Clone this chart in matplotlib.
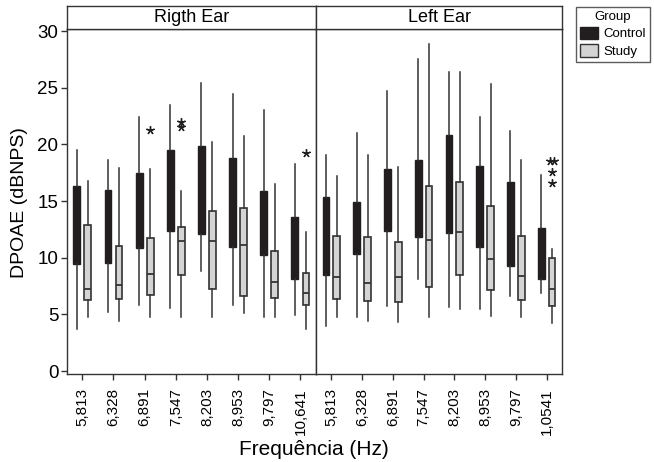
"""DPOAE by frequency, control vs study, right and left ear boxplots."""
import matplotlib
matplotlib.use("Agg")
import matplotlib.pyplot as plt
from matplotlib.patches import Patch

plt.rcParams["font.family"] = ["Liberation Sans", "DejaVu Sans"]

freq_right = ["5,813", "6,328", "6,891", "7,547", "8,203", "8,953", "9,797", "10,641"]
freq_left = ["5,813", "6,328", "6,891", "7,547", "8,203", "8,953", "9,797", "1,0541"]

# (whisker low, q1, median, q3, whisker high)
right_control = [
    (3.7, 9.45, 12.5, 16.3, 19.5),
    (5.2, 9.55, 12.5, 16.0, 18.65),
    (5.85, 10.9, 14.0, 17.45, 22.4),
    (5.6, 12.35, 16.0, 19.5, 23.5),
    (8.85, 12.1, 16.0, 19.85, 25.4),
    (5.85, 10.95, 15.0, 18.8, 24.4),
    (4.75, 10.25, 13.0, 15.85, 23.0),
    (4.95, 8.15, 11.0, 13.55, 18.25),
]
right_study = [
    (4.8, 6.3, 7.2, 12.9, 16.8),
    (4.4, 6.4, 7.6, 11.05, 17.95),
    (4.75, 6.75, 8.55, 11.75, 17.8),
    (4.75, 8.5, 11.45, 12.75, 15.85),
    (4.75, 7.2, 11.45, 14.1, 20.2),
    (5.15, 6.6, 11.1, 14.4, 20.7),
    (4.75, 6.45, 7.85, 10.6, 16.5),
    (3.75, 5.85, 6.85, 8.65, 12.3),
]
right_study_out = [[], [], [21.3], [22.0, 21.5], [], [], [], [19.2]]

left_control = [
    (4.0, 8.5, 12.0, 15.35, 19.1),
    (4.8, 10.35, 12.5, 14.95, 21.0),
    (5.7, 12.35, 15.0, 17.8, 24.75),
    (8.1, 11.85, 15.0, 18.6, 27.5),
    (5.65, 12.2, 16.5, 20.8, 26.4),
    (5.45, 10.95, 14.5, 18.1, 22.4),
    (6.65, 9.3, 13.0, 16.65, 21.15),
    (6.9, 8.15, 10.5, 12.6, 17.3),
]
left_study = [
    (4.8, 6.35, 8.3, 11.95, 17.2),
    (4.4, 6.15, 7.8, 11.85, 19.1),
    (4.3, 6.05, 8.3, 11.4, 18.0),
    (4.8, 7.45, 11.55, 16.35, 28.85),
    (5.45, 8.5, 12.25, 16.7, 26.4),
    (4.85, 7.15, 9.85, 14.55, 25.3),
    (4.8, 6.25, 8.4, 11.95, 18.6),
    (4.2, 5.75, 7.2, 10.0, 10.8),
]
left_study_out = [[], [], [], [], [], [], [], [18.5, 18.5, 17.6, 16.6]]
left_study_jit = [[], [], [], [], [], [], [], [-0.065, 0.065, 0, 0]]

C_CTRL = "#221e1f"
C_STUDY = "#d4d4d4"
C_LINE = "#333333"

fig = plt.figure(figsize=(6.54, 4.62), dpi=100)
W, H = 654, 462
bot, top = 1 - 374 / H, 1 - 29.3 / H
panels = [(66.7, 249.3), (316, 246)]
axes = []
for i, (x0, w) in enumerate(panels):
    ax = fig.add_axes([x0 / W, bot, w / W, top - bot], sharey=axes[0] if axes else None)
    axes.append(ax)
    st = fig.add_axes([x0 / W, top, w / W, 23.3 / H])
    st.set_xticks([]); st.set_yticks([])
    st.text(0.5, 0.5, ["Rigth Ear", "Left Ear"][i], ha="center", va="center", fontsize=13)
    for s in st.spines.values():
        s.set_linewidth(1.0); s.set_color(C_LINE)


def stats(rows):
    return [dict(whislo=lo, q1=q1, med=med, q3=q3, whishi=hi, fliers=[])
            for lo, q1, med, q3, hi in rows]


def draw(ax, ctrl, study, outs, jit, labels):
    n = len(labels)
    pos = list(range(n))
    common = dict(widths=0.22, showcaps=False, showfliers=False, patch_artist=True,
                  whiskerprops=dict(color=C_LINE, lw=1.1),
                  manage_ticks=False)
    ax.bxp(stats(ctrl), positions=[p - 0.177 for p in pos],
           boxprops=dict(facecolor=C_CTRL, edgecolor=C_CTRL, lw=1.0),
           medianprops=dict(color=C_CTRL, lw=1.2), **common)
    ax.bxp(stats(study), positions=[p + 0.177 for p in pos],
           boxprops=dict(facecolor=C_STUDY, edgecolor=C_LINE, lw=1.2),
           medianprops=dict(color=C_LINE, lw=1.3), **common)
    for k, vals in enumerate(outs):
        for j, v in enumerate(vals):
            dx = jit[k][j] if jit else 0
            ax.plot(pos[k] + 0.177 + dx, v, marker=(5, 2, 0), color="#222222",
                    ms=6, mew=1.0, ls="none")
    ax.set_xlim(-0.5, n - 0.5)
    ax.set_xticks(pos)
    ax.set_xticklabels(labels, rotation=90, fontsize=11)
    ax.tick_params(axis="x", length=4, width=1, color=C_LINE, pad=6)
    for s in ax.spines.values():
        s.set_linewidth(1.0); s.set_color(C_LINE)


draw(axes[0], right_control, right_study, right_study_out, None, freq_right)
draw(axes[1], left_control, left_study, left_study_out, left_study_jit, freq_left)

axes[0].set_ylim(-0.26, 30.15)
axes[0].set_yticks([0, 5, 10, 15, 20, 25, 30])
axes[0].tick_params(axis="y", labelsize=13.5, length=4, width=1, color=C_LINE, pad=2)
axes[1].tick_params(axis="y", left=False, labelleft=False)

fig.text(20 / W, 1 - 203 / H, "DPOAE (dBNPS)", rotation=90, ha="center", va="center", fontsize=14)
fig.text(314 / W, 1 - 455 / H, "Frequência (Hz)", ha="center", va="baseline", fontsize=15)

handles = [Patch(facecolor=C_CTRL, edgecolor=C_CTRL, label="Control"),
           Patch(facecolor=C_STUDY, edgecolor=C_LINE, label="Study")]
leg = fig.legend(handles=handles, title="Group", loc="upper left",
                 bbox_to_anchor=(576 / W, 1 - 6.7 / H), fontsize=9.5, title_fontsize=9.5,
                 frameon=True, fancybox=False, edgecolor=C_LINE, handlelength=1.4,
                 handleheight=1.1, handletextpad=0.4, borderpad=0.3, labelspacing=0.3,
                 borderaxespad=0)
leg.get_frame().set_linewidth(1.0)

fig.savefig("out.png", dpi=100)
